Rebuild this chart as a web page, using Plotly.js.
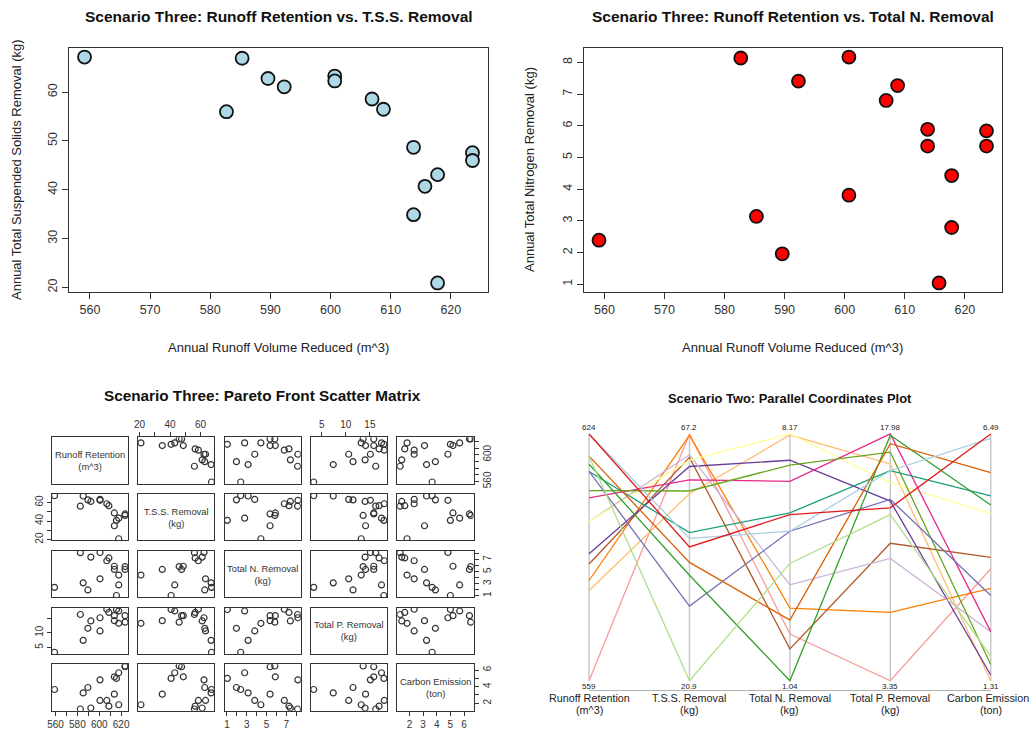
<!DOCTYPE html>
<html><head><meta charset="utf-8">
<script src="https://cdn.plot.ly/plotly-3.0.1.min.js"></script>
<style>html,body{margin:0;padding:0;background:#fff}#chart{width:1031px;height:734px}</style>
</head><body><div id="chart"></div>
<script>
// ---- data (one row per Pareto solution) ----
const runoff = [559.1, 582.7, 585.3, 589.6, 592.3, 600.7, 600.7, 606.9, 608.8, 613.8, 613.8, 615.7, 617.8, 617.8, 623.6, 623.6];
const tss    = [67.2, 56.0, 66.95, 62.8, 61.1, 63.3, 62.3, 58.6, 56.5, 48.7, 34.9, 40.7, 43.1, 20.9, 47.6, 46.0];
const totalN = [2.39, 8.14, 3.14, 1.96, 7.41, 3.81, 8.17, 6.80, 7.27, 5.89, 5.36, 1.04, 2.79, 4.43, 5.36, 5.84];
const totalP = [3.35, 16.2, 7.4, 11.5, 14.0, 10.6, 15.1, 17.98, 16.9, 15.8, 14.1, 17.9, 17.4, 13.2, 15.8, 13.6];
const carbon = [3.66, 1.31, 3.25, 3.90, 1.43, 2.34, 4.82, 2.34, 1.65, 5.19, 3.10, 5.00, 5.68, 1.82, 6.40, 6.49];
const lineColors = ['#FB9A99','#FDBF6F','#FF7F00','#B15928','#6A3D9A','#CAB2D6','#FFFF99','#E7298A','#66A61E','#1B9E77','#7570B3','#33A02C','#D95F02','#B2DF8A','#A6CEE3','#E31A1C'];

const varNames = ['Runoff Retention', 'T.S.S. Removal', 'Total N. Removal', 'Total P. Removal', 'Carbon Emission'];
const varUnits = ['(m^3)', '(kg)', '(kg)', '(kg)', '(ton)'];

const runoffTicks = [560, 570, 580, 590, 600, 610, 620];
const tssTicks = [20, 30, 40, 50, 60];
const nTicks = [1, 2, 3, 4, 5, 6, 7, 8];
const pTicks = [5, 10, 15];
const cTicks = [2, 3, 4, 5, 6];

// matrix tick labels (R drops overlapping labels)
const mBottomLabels = {0: ['560','','580','','600','','620'], 2: ['1','','3','','5','','7',''], 4: ['2','3','4','5','6']};
const mTopLabels = {1: ['20','','40','','60'], 3: ['5','10','15']};
const mLeftLabels = {1: ['20','','40','','60'], 3: ['5','10','']};
const mRightLabels = {0: ['560','','','','600','',''], 2: ['1','','3','','5','','7',''], 4: ['2','','4','','6']};

const titles = {
  tl: 'Scenario Three: Runoff Retention vs. T.S.S. Removal',
  tr: 'Scenario Three: Runoff Retention vs. Total N. Removal',
  mx: 'Scenario Three: Pareto Front Scatter Matrix',
  pc: 'Scenario Two: Parallel Coordinates Plot',
  xRunoff: 'Annual Runoff Volume Reduced (m^3)',
  yTSS: 'Annual Total Suspended Solids Removal (kg)',
  yN: 'Annual Total Nitrogen Removal (kg)'
};

// ---- helpers ----
const W = 1031, H = 734;
const FONT = '"Liberation Sans", Arial, sans-serif';
const xd = (a, b) => [a / W, b / W];
const yd = (top, bot) => [1 - bot / H, 1 - top / H];
const ext = arr => { const mn = Math.min(...arr), mx = Math.max(...arr), d = (mx - mn) * 0.04; return [mn - d, mx + d]; };
const vars = [runoff, tss, totalN, totalP, carbon];
const varTicks = [runoffTicks, tssTicks, nTicks, pTicks, cTicks];

const traces = [];
const layout = {
  width: W, height: H, margin: {l: 0, r: 0, t: 0, b: 0},
  paper_bgcolor: '#fff', plot_bgcolor: 'rgba(0,0,0,0)',
  font: {family: FONT, color: '#222'},
  showlegend: false, annotations: [], shapes: []
};
const ann = (text, xpx, ypx, o = {}) => layout.annotations.push(Object.assign({
  text, x: xpx / W, y: 1 - ypx / H, xref: 'paper', yref: 'paper', showarrow: false,
  xanchor: 'center', yanchor: 'middle', font: {size: 13, color: '#222', family: FONT}
}, o));
const bold = size => ({size, color: '#111', family: FONT, weight: 'bold'});

const boxAxis = (extra) => Object.assign({
  showline: true, mirror: true, linecolor: '#333', linewidth: 1, showgrid: false, zeroline: false,
  ticks: 'outside', ticklen: 6, tickcolor: '#333', tickwidth: 1, tickfont: {size: 12.5, color: '#333', family: FONT}, fixedrange: true
}, extra);

// ---- top-left scatter ----
layout.xaxis = boxAxis({domain: xd(69, 488), range: ext(runoff), anchor: 'y', tickmode: 'array', tickvals: runoffTicks});
layout.yaxis = boxAxis({domain: yd(48, 292), range: ext(tss), anchor: 'x', tickmode: 'array', tickvals: tssTicks, tickangle: -90});
traces.push({type: 'scatter', mode: 'markers', x: runoff, y: tss, xaxis: 'x', yaxis: 'y',
  marker: {size: 13, color: '#ADD8E6', line: {color: '#111', width: 1.8}}, hoverinfo: 'x+y'});
ann(titles.tl, 278.5, 17, {font: bold(15.5)});
ann(titles.xRunoff, 278.5, 347);
ann(titles.yTSS, 17, 170, {textangle: -90});

// ---- top-right scatter ----
layout.xaxis2 = boxAxis({domain: xd(583.5, 1002), range: ext(runoff), anchor: 'y2', tickmode: 'array', tickvals: runoffTicks});
layout.yaxis2 = boxAxis({domain: yd(48, 292), range: ext(totalN), anchor: 'x2', tickmode: 'array', tickvals: nTicks, tickangle: -90});
traces.push({type: 'scatter', mode: 'markers', x: runoff, y: totalN, xaxis: 'x2', yaxis: 'y2',
  marker: {size: 13, color: '#FF0000', line: {color: '#111', width: 1.8}}, hoverinfo: 'x+y'});
ann(titles.tr, 792.5, 17, {font: bold(15.5)});
ann(titles.xRunoff, 792.7, 347);
ann(titles.yN, 530, 170, {textangle: -90});

// ---- scatter matrix ----
const colX0 = 51.7, colPitch = 86.4, colW = 76.2;
const rowY0 = 437.3, rowPitch = 56.75, rowH = 46.4;
const n = vars.length;
for (let i = 0; i < n; i++) {
  for (let j = 0; j < n; j++) {
    const k = 3 + i * n + j;
    const xa = 'xaxis' + k, ya = 'yaxis' + k;
    const x0 = colX0 + j * colPitch, y0 = rowY0 + i * rowPitch;
    const xax = boxAxis({domain: xd(x0, x0 + colW), range: ext(vars[j]), anchor: 'y' + k,
      ticks: '', showticklabels: false, ticklen: 4, tickfont: {size: 10, color: '#333', family: FONT}});
    const yax = boxAxis({domain: yd(y0, y0 + rowH), range: ext(vars[i]), anchor: 'x' + k,
      ticks: '', showticklabels: false, ticklen: 4, tickfont: {size: 10, color: '#333', family: FONT}});
    if (i === n - 1 && mBottomLabels[j]) Object.assign(xax, {ticks: 'outside', showticklabels: true, tickmode: 'array', tickvals: varTicks[j], ticktext: mBottomLabels[j], side: 'bottom'});
    if (i === 0 && mTopLabels[j]) Object.assign(xax, {ticks: 'outside', showticklabels: true, tickmode: 'array', tickvals: varTicks[j], ticktext: mTopLabels[j], side: 'top'});
    if (j === 0 && mLeftLabels[i]) Object.assign(yax, {ticks: 'outside', showticklabels: true, tickmode: 'array', tickvals: varTicks[i], ticktext: mLeftLabels[i], side: 'left', tickangle: -90});
    if (j === n - 1 && mRightLabels[i]) Object.assign(yax, {ticks: 'outside', showticklabels: true, tickmode: 'array', tickvals: varTicks[i], ticktext: mRightLabels[i], side: 'right', tickangle: -90});
    layout[xa] = xax; layout[ya] = yax;
    if (i === j) {
      traces.push({type: 'scatter', mode: 'markers', x: [], y: [], xaxis: 'x' + k, yaxis: 'y' + k});
      ann(varNames[i] + '<br>' + varUnits[i], x0 + colW / 2, y0 + rowH / 2, {font: {size: 9.4, color: '#333', family: FONT}});
    } else {
      traces.push({type: 'scatter', mode: 'markers', x: vars[j], y: vars[i], xaxis: 'x' + k, yaxis: 'y' + k,
        marker: {symbol: 'circle-open', size: 6, color: '#333', line: {width: 1.2}}, hoverinfo: 'x+y'});
    }
  }
}
ann(titles.mx, 262.5, 395, {font: bold(15.3)});

// ---- parallel coordinates ----
const pk = 3 + n * n;
const idx = vars.map((_, i) => i);
layout['xaxis' + pk] = {domain: xd(573, 1006.8), range: [-0.16, n - 1 + 0.16], anchor: 'y' + pk,
  showline: false, showgrid: false, zeroline: false, ticks: '', showticklabels: false,
  tickmode: 'array', tickvals: idx, fixedrange: true};
layout['yaxis' + pk] = {domain: yd(424.1, 690.6), range: [-0.04, 1.04], anchor: 'x' + pk,
  showline: false, showgrid: false, zeroline: false, showticklabels: false, fixedrange: true};
const mins = vars.map(v => Math.min(...v)), maxs = vars.map(v => Math.max(...v));
// vertical axes and bottom axis line
idx.forEach(i => layout.shapes.push({type: 'line', xref: 'x' + pk, yref: 'y' + pk, x0: i, x1: i, y0: 0, y1: 1,
  line: {color: '#c8c8c8', width: 1.5}, layer: 'below'}));
layout.shapes.push({type: 'line', xref: 'x' + pk, yref: 'y' + pk, x0: 0, x1: n - 1, y0: -0.04, y1: -0.04,
  line: {color: '#555', width: 1}});
runoff.forEach((_, r) => {
  traces.push({type: 'scatter', mode: 'lines', x: idx, y: vars.map((v, i) => (v[r] - mins[i]) / (maxs[i] - mins[i])),
    xaxis: 'x' + pk, yaxis: 'y' + pk, line: {color: lineColors[r], width: 1.3}, hoverinfo: 'skip'});
});
// R-style format(c(min,max), digits=3)
const fmt3 = (a, b) => {
  const dec = Math.max(...[a, b].map(v => Math.max(0, 3 - (Math.floor(Math.log10(Math.abs(v))) + 1))));
  return [a.toFixed(dec), b.toFixed(dec)];
};
idx.forEach(i => {
  const [lo, hi] = fmt3(mins[i], maxs[i]);
  const xr = 'x' + pk, yr = 'y' + pk;
  const xs = i === n - 1 ? -3 : 0;
  layout.annotations.push({text: hi, x: i, y: 1, xref: xr, yref: yr, showarrow: false, yanchor: 'bottom', yshift: 0,
    font: {size: 8, color: '#222', family: FONT}});
  layout.annotations.push({text: lo, x: i, y: 0, xref: xr, yref: yr, showarrow: false, yanchor: 'top', yshift: 1,
    font: {size: 8, color: '#222', family: FONT}});
  layout.annotations.push({text: varNames[i], x: i, y: -0.04, xref: xr, yref: yr, showarrow: false, yanchor: 'middle', yshift: -7.5, xshift: xs,
    font: {size: 10.8, color: '#222', family: FONT}});
  layout.annotations.push({text: varUnits[i], x: i, y: -0.04, xref: xr, yref: yr, showarrow: false, yanchor: 'middle', yshift: -19.5,
    font: {size: 10.8, color: '#222', family: FONT}});
});
ann(titles.pc, 789.8, 398, {font: bold(12.9)});

Plotly.newPlot('chart', traces, layout, {displayModeBar: false, staticPlot: true});
</script>
</body></html>
